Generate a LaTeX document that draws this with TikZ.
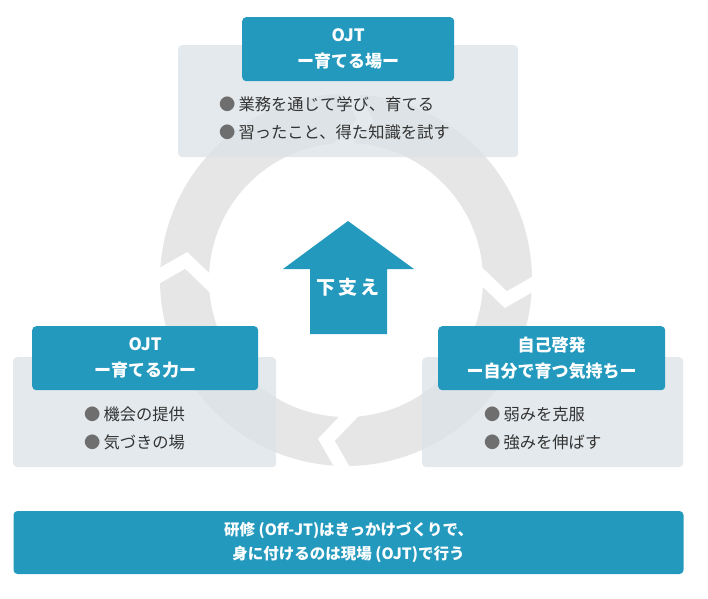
\documentclass[tikz,border=0pt]{standalone}
\usepackage{fontspec}
\setmainfont{Noto Sans CJK JP}
\usetikzlibrary{positioning}
\definecolor{cTeal}{HTML}{2499BE}
\definecolor{cRing}{HTML}{E6E6E6}
\definecolor{cPanel}{HTML}{DBE2E7}
\definecolor{cDot}{HTML}{6E6E6E}
\definecolor{cText}{HTML}{333333}
\tikzset{
  panel/.style = {fill=cPanel, fill opacity=0.75, rounded corners=4pt,
                  inner sep=0pt, anchor=north west},
  head/.style  = {fill=cTeal, rounded corners=4pt, inner sep=0pt, anchor=north west,
                  text=white, align=center, font=\fontsize{17}{26}\selectfont\bfseries},
  items/.style = {anchor=west, align=left, text=cText, inner sep=0pt,
                  font=\fontsize{16.3}{28}\selectfont},
  gap/.style   = {draw=white, line width=13.5pt, line join=miter},
}
\newcommand{\dotmark}{{\color{cDot}●}\hspace{3pt}}

\begin{document}
\begin{tikzpicture}[x=1pt, y=1pt]
  \useasboundingbox (0,0) rectangle (708,-598);
  % cycle ring with four chevron breaks
  \coordinate (c) at (346,-280);
  \fill[cRing, even odd rule] (c) circle (186pt) (c) circle (137pt);
  \foreach \a in {83,173,263,353}{
    \begin{scope}[shift={(c)}, rotate=\a]
      \draw[gap] (125,27) -- (161,0) -- (197,27);
    \end{scope}
  }
  % top: OJT
  \node[panel, minimum width=340pt, minimum height=112pt] (topbg) at (178,-45) {};
  \node[head, minimum width=212pt, minimum height=64pt] (tophd) at (242,-17) {OJT\\ー育てる場ー};
  \node[items] (toplst) at (219,-118) {\dotmark 業務を通じて学び、育てる\\\dotmark 習ったこと、得た知識を試す};
  % left: OJT
  \node[panel, minimum width=263pt, minimum height=110pt] (leftbg) at (13,-357) {};
  \node[head, minimum width=226pt, minimum height=64pt] (lefthd) at (32,-326) {OJT\\ー育てる力ー};
  \node[items] (leftlst) at (84,-428.5) {\dotmark 機会の提供\\\dotmark 気づきの場};
  % right: self development
  \node[panel, minimum width=261pt, minimum height=110pt] (rightbg) at (422,-357) {};
  \node[head, minimum width=227pt, minimum height=64pt] (righthd) at (438,-326) {自己啓発\\ー自分で育つ気持ちー};
  \node[items] (rightlst) at (484,-428.5) {\dotmark 弱みを克服\\\dotmark 強みを伸ばす};
  % centre arrow
  \fill[cTeal] (348,-221) -- (414,-269) -- (387,-269) -- (387,-334)
    -- (310,-334) -- (310,-269) -- (283,-269) -- cycle;
  \node[text=white, font=\fontsize{19}{19}\selectfont\bfseries] (support) at (348,-287) {下\,支\,え};
  % bottom note
  \node[head, anchor=center, minimum width=670pt, minimum height=63pt,
        font=\fontsize{15.5}{24}\selectfont\bfseries] (note) at (348.5,-542.5)
        {研修 (Off-JT)はきっかけづくりで、\\身に付けるのは現場 (OJT)で行う};
\end{tikzpicture}
\end{document}
